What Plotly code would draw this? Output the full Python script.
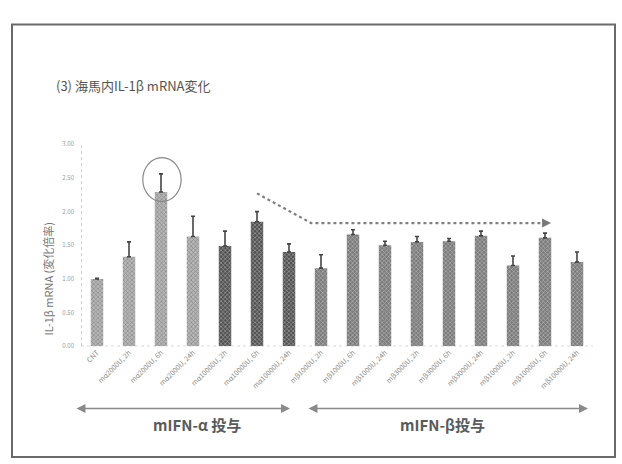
import plotly.graph_objects as go

# Hippocampal IL-1β mRNA fold change after mIFN-α / mIFN-β dosing
categories = [
    "CNT",
    "mα2000U, 2h", "mα2000U, 6h", "mα2000U, 24h",
    "mα10000U, 2h", "mα10000U, 6h", "mα10000U, 24h",
    "mβ1000U, 2h", "mβ1000U, 6h", "mβ1000U, 24h",
    "mβ3000U, 2h", "mβ3000U, 6h", "mβ3000U, 24h",
    "mβ10000U, 2h", "mβ10000U, 6h", "mβ10000U, 24h",
]
fold_change = [1.00, 1.33, 2.29, 1.63, 1.49, 1.85, 1.40, 1.16,
               1.66, 1.50, 1.55, 1.56, 1.64, 1.20, 1.61, 1.25]
sem = [0.01, 0.22, 0.27, 0.30, 0.22, 0.15, 0.12, 0.20,
       0.07, 0.06, 0.08, 0.04, 0.07, 0.14, 0.07, 0.15]
y_ticks = [0.0, 0.5, 1.0, 1.5, 2.0, 2.5, 3.0]

LIGHT, DARK, MID = "#b8b8b8", "#525252", "#7a7a7a"
bar_colors = [LIGHT] * 4 + [DARK] * 3 + [MID] * 9
pattern_fg = ["#909090"] * 4 + ["#363636"] * 3 + ["#5a5a5a"] * 9

x_idx = list(range(len(categories)))

W, H = 622, 464


def px(x):
    return x / W


def py(y):
    return 1 - y / H


fig = go.Figure()
fig.add_trace(go.Bar(
    x=x_idx, y=fold_change, width=0.39,
    marker=dict(
        color=bar_colors, line=dict(width=0),
        pattern=dict(shape="x", size=3, solidity=0.35,
                     fgcolor=pattern_fg, fillmode="overlay"),
    ),
    error_y=dict(type="data", array=sem, arrayminus=[0] * len(sem),
                 symmetric=False, color="#444444", thickness=1.6, width=2),
    showlegend=False,
))

fig.update_layout(
    width=W, height=H,
    margin=dict(l=0, r=0, t=0, b=0),
    paper_bgcolor="white", plot_bgcolor="white",
    font=dict(family="Noto Sans CJK JP, DejaVu Sans", color="#777777"),
    xaxis=dict(
        domain=[px(81), px(593)], range=[-0.5, 15.5],
        tickmode="array", tickvals=x_idx, ticktext=categories,
        tickangle=-45, tickfont=dict(size=7, color="#888888"),
        showgrid=False, zeroline=False, showline=False, ticks="",
    ),
    yaxis=dict(
        domain=[py(348), py(142)], range=[0, 3.0],
        tickmode="array", tickvals=y_ticks,
        ticktext=[f"{v:.2f}" for v in y_ticks],
        tickfont=dict(size=6, color="#999999"),
        showgrid=False, zeroline=False, showline=False, ticks="",
        ticklabelstandoff=6,
    ),
)

shapes = []
# dotted axes
shapes.append(dict(type="line", xref="x", yref="y", x0=-0.5, x1=15.5, y0=0, y1=0,
                   line=dict(color="#aaaaaa", width=1.2, dash="dot")))
shapes.append(dict(type="line", xref="x", yref="y", x0=-0.5, x1=-0.5, y0=0, y1=3.0,
                   line=dict(color="#aaaaaa", width=1.2, dash="dot")))
# circle highlighting the peak bar
shapes.append(dict(type="circle", xref="x", yref="y", x0=1.43, x1=2.63, y0=2.15, y1=2.80,
                   line=dict(color="#888888", width=1.2)))
# trend line: down then flat
shapes.append(dict(type="path", xref="x", yref="y",
                   path="M 5.0,2.27 L 6.69,1.83 L 14.1,1.83",
                   line=dict(color="#808080", width=2.2, dash="dot")))
# outer frame
shapes.append(dict(type="rect", xref="paper", yref="paper",
                   x0=px(12), x1=px(615), y0=py(461), y1=py(20),
                   line=dict(color="#6a6a6a", width=2)))
fig.update_layout(shapes=shapes)


def span_arrow(x_left, x_right, y):
    return dict(x=px(x_right), y=py(y), xref="paper", yref="paper",
                ax=-(x_right - x_left), ay=0, axref="pixel", ayref="pixel",
                text="", showarrow=True, arrowhead=2, startarrowhead=2,
                arrowside="end+start", arrowsize=1.2, arrowwidth=1.5,
                arrowcolor="#8a8a8a")


annotations = [
    dict(text="(3) 海馬内IL-1β mRNA変化", xref="paper", yref="paper",
         x=px(54), y=py(82), xanchor="left", yanchor="middle",
         showarrow=False, font=dict(size=13, color="#555555")),
    dict(text="IL-1β mRNA (変化倍率)", xref="paper", yref="paper",
         x=px(48), y=py(279), xanchor="center", yanchor="middle", textangle=-90,
         showarrow=False, font=dict(size=11, color="#777777")),
    # arrowhead of trend line
    dict(x=14.19, y=1.83, ax=13.9, ay=1.83, xref="x", yref="y", axref="x", ayref="y",
         text="", showarrow=True, arrowhead=2, arrowsize=1.2, arrowwidth=1.5,
         arrowcolor="#777777"),
    # group spans
    span_arrow(75, 290, 411.5),
    span_arrow(307, 588, 411.5),
    dict(text="<b>mIFN-α 投与</b>", xref="paper", yref="paper",
         x=px(197), y=py(428), xanchor="center", yanchor="middle", showarrow=False,
         font=dict(size=15, color="#5a5a5a")),
    dict(text="<b>mIFN-β投与</b>", xref="paper", yref="paper",
         x=px(442), y=py(428), xanchor="center", yanchor="middle", showarrow=False,
         font=dict(size=15, color="#5a5a5a")),
]
fig.update_layout(annotations=annotations)

fig.write_html("out.html")
